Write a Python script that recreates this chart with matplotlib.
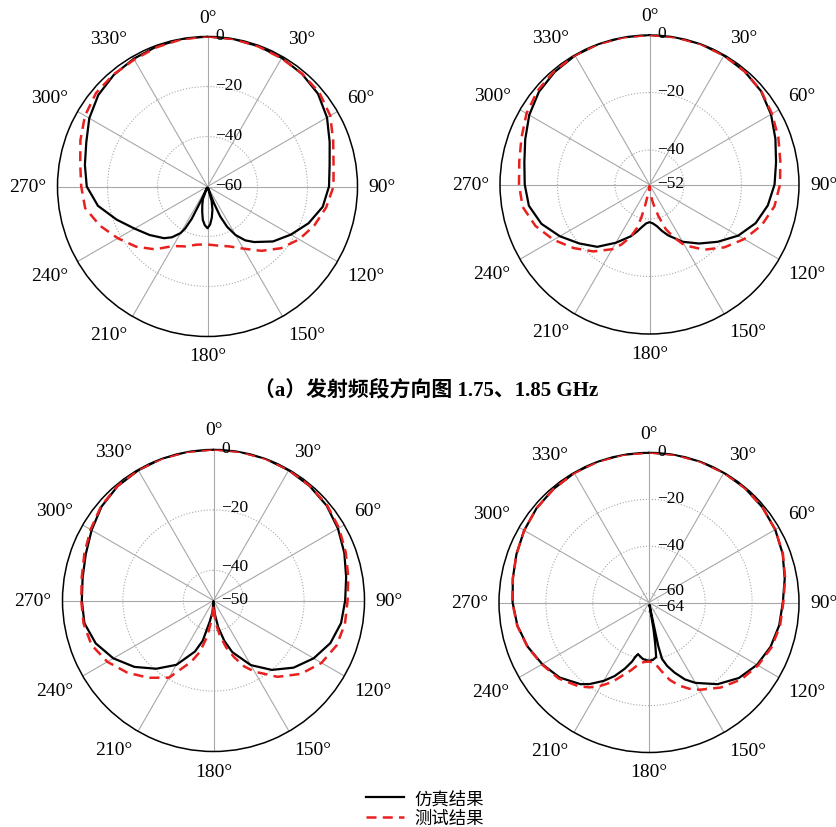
import numpy as np
import matplotlib
matplotlib.use('Agg')
import matplotlib.pyplot as plt
from matplotlib import transforms
from matplotlib.lines import Line2D

plt.rcParams['font.family'] = ['Liberation Serif', 'Noto Sans CJK SC', 'DejaVu Sans']

# --- measured / simulated patterns (angle in deg, gain in dB) ---
# 1.75 GHz transmit band
a1_sim_deg = [0, 10, 20, 30, 40, 50, 60, 70, 80, 90, 100, 110, 120, 130, 140, 145, 150, 154, 157, 159,
              161, 164, 168, 172, 176, 180, 184, 188, 192, 196, 200, 202.5, 204.5, 206, 208, 210, 215, 220, 230, 240,
              250, 260, 270, 280, 290, 300, 310, 320, 330, 340, 350, 360]
a1_sim_db = [0, -0.1, -0.3, -0.6, -1.2, -2.3, -4.8, -8.0, -10.4, -11.4, -13.2, -17.0, -21.5, -25.8, -31.0, -33.7, -37.6, -42.0, -47.0, -53.0,
             -59.5, -54.0, -50.5, -47.5, -44.8, -43.3, -44.5, -46.5, -49.8, -52.5, -54.7, -59.5, -54.0, -45.6, -41.0, -38.5, -35.2, -33.0, -29.8, -26.3,
             -21.3, -15.5, -11.7, -10.2, -8.4, -5.4, -3.0, -1.7, -1.0, -0.4, -0.1, 0]
a1_meas_deg = list(range(0, 361, 10))
a1_meas_db = [0, -0.1, -0.4, -0.8, -1.1, -1.6, -3.3, -6.5, -8.8, -9.6, -11.8, -14.5, -17.7, -21.6, -26.4, -31.3, -34.5, -36.0, -36.8,
              -36.4, -34.5, -32.5, -27.2, -22.6, -18.6, -14.2, -10.3, -9.5, -8.3, -5.9, -3.4, -1.8, -1.5, -1.4, -0.7, -0.2, 0]

# 1.85 GHz transmit band
a2_sim_deg = [0, 10, 20, 30, 40, 50, 60, 70, 80, 90, 100, 110, 120, 130, 140, 150, 160, 165, 170, 175, 180,
              185, 190, 195, 200, 210, 220, 230, 240, 250, 260, 270, 280, 290, 300, 310, 320, 330, 340, 350, 360]
a2_sim_db = [0, 0, 0, -0.2, -0.6, -1.4, -3.2, -5.4, -7.3, -8.5, -10.2, -12.7, -16.4, -21.0, -25.2, -29.0, -33.2, -35.3, -37.3, -38.4, -38.9,
             -38.4, -37.0, -35.0, -32.8, -28.6, -23.7, -20.1, -16.0, -12.0, -9.4, -8.6, -7.8, -6.0, -3.7, -1.8, -0.8, -0.2, 0, 0, 0]
a2_meas_deg = [0, 10, 20, 30, 40, 50, 60, 70, 80, 90, 100, 110, 120, 130, 140, 150, 155, 160, 164, 167, 170, 175, 180,
               185, 188, 190, 192, 194, 196, 200, 205, 210, 220, 230, 240, 250, 260, 270, 280, 290, 300, 310, 320, 330, 340, 350, 360]
a2_meas_db = [0, 0, 0, -0.2, -0.6, -1.3, -2.8, -4.3, -5.8, -6.6, -7.9, -10.5, -14.0, -18.0, -22.4, -27.6, -31.5, -35.5, -40.3, -43.5, -46.0, -49.3, -51.5,
              -50.3, -48.5, -47.5, -44.0, -40.0, -36.3, -32.5, -29.0, -26.0, -21.6, -17.6, -13.5, -9.8, -7.2, -6.6, -6.0, -4.6, -2.6, -1.2, -0.5, -0.1, 0, 0, 0]

# receive band, left
b1_sim_deg = [0, 10, 20, 30, 40, 50, 60, 70, 80, 90, 100, 110, 120, 130, 140, 150, 160, 165, 170, 175, 180,
              185, 190, 195, 200, 210, 220, 230, 240, 250, 260, 270, 280, 290, 300, 310, 320, 330, 340, 350, 360]
b1_sim_db = [0, 0, 0, -0.2, -0.5, -1.1, -2.4, -3.9, -5.4, -6.4, -7.1, -8.8, -11.7, -15.4, -20.0, -25.3, -31.8, -36.2, -41.0, -45.8, -49.8,
             -46.2, -43.0, -36.2, -32.0, -25.4, -20.5, -15.8, -11.7, -8.5, -6.6, -6.4, -6.0, -5.0, -3.4, -1.6, -0.6, -0.2, 0, 0, 0]
b1_meas_deg = [0, 10, 20, 30, 40, 50, 60, 70, 80, 90, 100, 110, 120, 130, 140, 150, 155, 160, 165, 170, 175, 180,
               185, 190, 195, 200, 210, 220, 230, 240, 250, 260, 270, 280, 290, 300, 310, 320, 330, 340, 350, 360]
b1_meas_db = [0, 0, 0, -0.1, -0.4, -0.9, -2.0, -3.4, -4.7, -5.6, -5.8, -6.6, -8.7, -12.2, -17.0, -22.8, -25.9, -30.0, -34.0, -38.5, -43.0, -48.5,
              -44.0, -37.8, -32.3, -28.4, -20.5, -16.6, -12.8, -9.4, -7.0, -6.3, -6.2, -5.7, -4.5, -3.0, -1.4, -0.5, -0.1, 0, 0, 0]

# receive band, right
b2_sim_deg = [0, 10, 20, 30, 40, 50, 60, 70, 80, 90, 100, 110, 120, 130, 140, 150, 155, 160, 164, 167, 168, 169,
              170.5, 171.5, 172.5, 176, 180, 186, 190, 192, 194, 196, 200, 205, 210, 216, 220,
              230, 240, 250, 260, 270, 280, 290, 300, 310, 320, 330, 340, 350, 360]
b2_sim_db = [0, 0, 0, -0.1, -0.3, -0.8, -1.8, -3.3, -5.2, -6.9, -7.6, -8.8, -10.8, -13.9, -18.5, -24.4, -27.8, -32.2, -35.8, -39.3, -45.0, -63.0,
             -52.0, -46.0, -40.5, -39.5, -39.1, -39.7, -40.9, -41.5, -40.2, -37.8, -34.0, -29.4, -25.4, -21.0, -18.5,
             -14.2, -11.4, -8.9, -7.0, -5.8, -5.0, -3.8, -2.5, -1.4, -0.7, -0.2, 0, 0, 0]
b2_meas_deg = [0, 10, 20, 30, 40, 50, 60, 70, 80, 90, 100, 110, 120, 130, 140, 150, 155, 160, 165, 170, 175, 180,
               185, 190, 195, 200, 205, 210, 215, 220, 230, 240, 250, 260, 270, 280, 290, 300, 310, 320, 330, 340, 350, 360]
b2_meas_db = [0, 0, 0, -0.1, -0.3, -0.8, -1.8, -3.2, -5.0, -6.7, -7.2, -8.3, -10.3, -12.8, -16.6, -21.0, -23.4, -26.3, -29.8, -34.5, -38.3, -38.8,
              -38.5, -37.0, -34.0, -30.8, -26.5, -23.0, -19.8, -17.3, -13.6, -11.2, -8.8, -6.9, -5.7, -5.0, -3.8, -2.5, -1.4, -0.7, -0.2, 0, 0, 0]

legend_labels = ['仿真结果', '测试结果']
caption = '（a）发射频段方向图 1.75、1.85 GHz'

W, H = 836, 828
SIM_COLOR = 'black'
MEAS_COLOR = '#e8211f'
GRID_COLOR = '#a8a8a8'


def draw_pattern(fig, cx, cy, R, rmin, rings, sim, meas, nudge=None):
    nudge = nudge or {}
    ax = fig.add_axes([(cx - R) / W, (H - cy - R) / H, 2 * R / W, 2 * R / H], projection='polar')
    ax.set_theta_zero_location('N')
    ax.set_theta_direction(-1)
    ax.set_ylim(rmin, 0)
    ax.set_yticks(rings)
    ax.set_yticklabels([])
    ax.set_xticks(np.deg2rad(np.arange(0, 360, 30)))
    ax.set_xticklabels([])
    ax.xaxis.grid(True, color=GRID_COLOR, lw=0.8, ls='-')
    ax.yaxis.grid(True, color=GRID_COLOR, lw=0.8, ls=':')
    ax.spines['polar'].set_color('black')
    ax.spines['polar'].set_linewidth(1.1)

    ax.plot(np.deg2rad(sim[0]), sim[1], color=SIM_COLOR, lw=1.6, zorder=3)
    ax.plot(np.deg2rad(meas[0]), meas[1], color=MEAS_COLOR, lw=1.8, dashes=(4, 2.5), zorder=4)

    # angle labels around the rim
    k = 1.073
    for a in range(0, 360, 30):
        s, c = np.sin(np.deg2rad(a)), np.cos(np.deg2rad(a))
        ha = 'left' if s > 0.05 else ('right' if s < -0.05 else 'center')
        va = 'bottom' if c > 0.05 else ('top' if c < -0.05 else 'center')
        ax.text(0.5 + 0.5 * k * s, 0.5 + 0.5 * k * c, f'{a}°', transform=ax.transAxes,
                ha=ha, va=va, fontsize=14, clip_on=False)

    # dB labels along the 0 deg spoke
    for v in [0] + sorted(rings, reverse=True) + [rmin]:
        dy = nudge.get(v, 1.5)
        tr = transforms.offset_copy(ax.transData, fig=fig, x=8, y=dy, units='dots')
        ax.text(0, v, str(v).replace('-', '\u2212'), transform=tr, ha='left', va='center',
                fontsize=12.5, zorder=6, clip_on=False)
    return ax


fig = plt.figure(figsize=(W / 100, H / 100), dpi=100)
fig.patch.set_facecolor('white')

draw_pattern(fig, 207.5, 187.5, 150, -60, [-20, -40], (a1_sim_deg, a1_sim_db), (a1_meas_deg, a1_meas_db))
draw_pattern(fig, 649.5, 185.5, 149.5, -52, [-20, -40], (a2_sim_deg, a2_sim_db), (a2_meas_deg, a2_meas_db))
draw_pattern(fig, 213.5, 601.5, 151, -50, [-20, -40], (b1_sim_deg, b1_sim_db), (b1_meas_deg, b1_meas_db),
             nudge={-40: 4, -20: 3})
draw_pattern(fig, 649, 603.5, 150, -64, [-20, -40, -60], (b2_sim_deg, b2_sim_db), (b2_meas_deg, b2_meas_db),
             nudge={-60: 3, -64: -3.5})

fig.text(426 / W, 1 - 390 / H, caption, ha='center', va='center', fontsize=15, fontweight='bold',
         family=['Liberation Serif', 'Noto Sans CJK SC'])

handles = [Line2D([], [], color=SIM_COLOR, lw=1.6),
           Line2D([], [], color=MEAS_COLOR, lw=1.8, dashes=(4, 2.5))]
fig.legend(handles, legend_labels, loc='center', bbox_to_anchor=(425 / W, 1 - 809 / H), frameon=False,
           prop={'family': ['Noto Sans CJK SC'], 'size': 12.5}, handlelength=2.2, handletextpad=0.6,
           labelspacing=0.1, borderpad=0)

fig.savefig('out.png', dpi=100, facecolor='white')
